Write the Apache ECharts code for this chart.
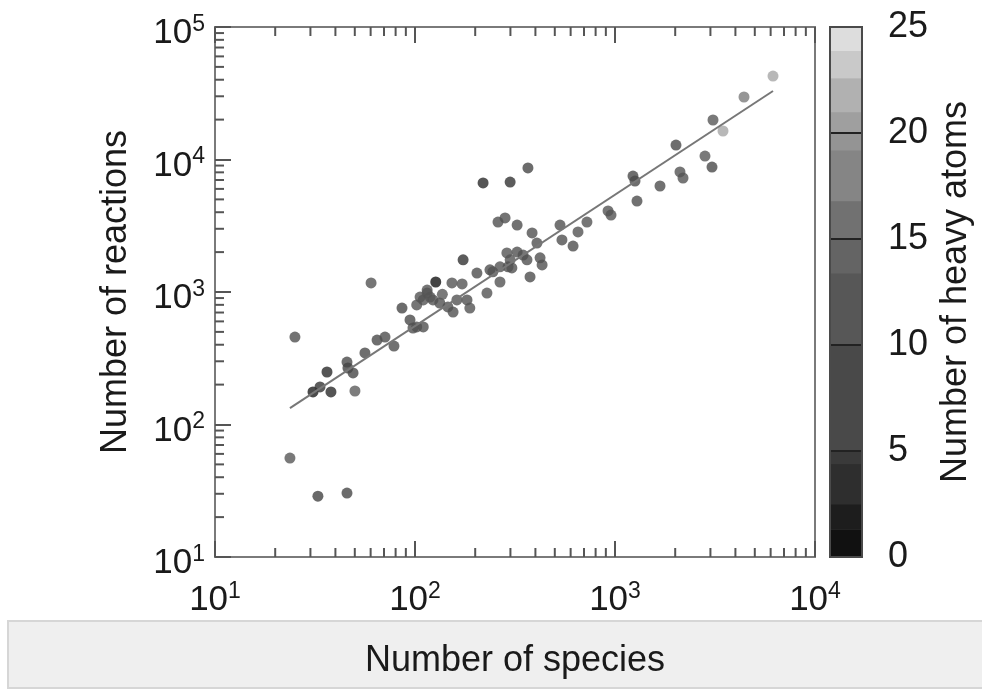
<!DOCTYPE html>
<html>
<head>
<meta charset="utf-8">
<script src="https://cdn.jsdelivr.net/npm/echarts@6/dist/echarts.min.js"></script>
<style>
  html, body { margin: 0; padding: 0; background: #ffffff; }
  #chart { width: 982px; height: 691px; }
</style>
</head>
<body>
<div id="chart"></div>
<script>
// Mechanism size: species count, reaction count and heavy-atom count per mechanism
const species = [
  23.7, 32.7, 45.7, 25.1, 30.9, 33.5, 36.3, 38.0, 45.7, 46.2,
  49.0, 50.1, 56.2, 64.6, 70.8, 78.5, 60.3, 86.1, 94.4, 97.7,
  102, 110, 102, 110, 115, 119, 123, 115, 127, 133,
  146, 155, 162, 153, 172, 174, 182, 188, 204, 229,
  237, 245, 266, 266, 288, 299, 292, 219, 299, 367,
  260, 282, 324, 385, 407, 422, 432, 376, 347, 363,
  324, 305, 531, 543, 617, 653, 724, 923, 955, 1230,
  1259, 1288, 1679, 2018, 2113, 2188, 2818, 3055, 3090, 3467,
  4416, 6166, 106, 137
];
const reactions = [
  55.8, 28.8, 30.4, 457, 176, 192, 249, 176, 296, 267,
  245, 179, 347, 434, 457, 391, 1170, 757, 615, 535,
  545, 545, 798, 871, 982, 916, 871, 1035, 1190, 826,
  771, 706, 871, 1170, 1150, 1750, 871, 757, 1390, 982,
  1470, 1420, 1550, 1190, 1970, 1750, 1550, 6650, 6760, 8630,
  3370, 3620, 3200, 2790, 2340, 1810, 1600, 1300, 1900, 1750,
  2000, 1520, 3200, 2470, 2220, 2840, 3370, 4090, 3810, 7500,
  6880, 4860, 6310, 12860, 8050, 7250, 10620, 8770, 19870, 16410,
  29630, 42650, 916, 960
];
const heavyAtoms = [
  12, 6, 7, 10, 2, 4, 3, 3, 8, 6,
  7, 13, 8, 8, 9, 9, 11, 7, 8, 10,
  10, 10, 11, 11, 11, 12, 11, 11, 1, 10,
  10, 10, 11, 11, 11, 4, 10, 11, 9, 11,
  10, 10, 11, 11, 11, 11, 10, 3, 4, 7,
  10, 10, 9, 10, 10, 10, 10, 9, 11, 10,
  10, 10, 10, 10, 9, 11, 11, 11, 11, 8,
  8, 9, 9, 8, 11, 11, 12, 8, 12, 21,
  17, 21, 11, 12
];

// Power-law fit drawn across the data range
const fitSpecies = [23.7, 6166];
const fitReactions = [133, 32900];

// Axis extents and log minor-tick layout
const speciesRange = [10, 10000];
const reactionsRange = [10, 100000];
const atomRange = [0, 25];
const atomStep = 5;
const atomTicks = [5, 10, 15, 20];
const speciesDecades = [10, 100, 1000];
const reactionDecades = [10, 100, 1000, 10000];
const minorMultipliers = [2, 3, 4, 5, 6, 7, 8, 9];

// Colour-bar levels (quantised steps of the grey map)
const colorbarEdges = [0, 1.3, 2.5, 4.4, 5, 10, 13.4, 15, 16.8, 19.2, 20, 21, 22.6, 23.9, 25];

// Grey ramp from 0 to 25 heavy atoms (one stop per unit)
const greyRamp = [
  '#0c0c0c', '#141414', '#1e1e1e', '#2a2a2a', '#333333', '#3d3d3d',
  '#434343', '#474747', '#4a4a4a', '#4d4d4d', '#505050', '#545454',
  '#585858', '#5c5c5c', '#636363', '#6a6a6a', '#727272', '#7c7c7c',
  '#858585', '#8e8e8e', '#989898', '#a6a6a6', '#b4b4b4', '#c4c4c4',
  '#d6d6d6', '#e6e6e6'
];

const FONT = "'Liberation Sans', Arial, Helvetica, sans-serif";
const TEXT = '#1a1a1a';
const FRAME = '#7a7a7a';
const TICK = '#555555';
const MAJOR_LEN = 16;
const MINOR_LEN = 9;

const pow10Label = v => '{b|10}{s|' + Math.round(Math.log10(v)) + '}';
const powRich = {
  b: { fontSize: 35, fontFamily: FONT, color: TEXT, lineHeight: 38, verticalAlign: 'bottom' },
  s: { fontSize: 23, fontFamily: FONT, color: TEXT, lineHeight: 23, verticalAlign: 'top' }
};

const points = species.map((s, i) => [s, reactions[i], heavyAtoms[i]]);
const fitLine = fitSpecies.map((s, i) => [s, fitReactions[i]]);
const xMinor = speciesDecades.flatMap(d => minorMultipliers.map(m => [d * m, reactionsRange[0]]));
const yMinor = reactionDecades.flatMap(d => minorMultipliers.map(m => [speciesRange[0], d * m]));
const colorbarBands = colorbarEdges.slice(0, -1).map((lo, i) => {
  const hi = colorbarEdges[i + 1];
  return [lo, hi, (lo + hi) / 2];
});
const colorbarTicks = atomTicks.map(v => [0, v]);

const tickLine = (x1, y1, x2, y2, color) => ({
  type: 'line',
  shape: { x1, y1, x2, y2 },
  style: { stroke: color || TICK, lineWidth: 2 }
});

const chart = echarts.init(document.getElementById('chart'), null, { renderer: 'canvas' });

chart.setOption({
  backgroundColor: '#ffffff',
  animation: false,
  textStyle: { fontFamily: FONT },
  graphic: [
    {
      type: 'rect',
      z: -10,
      shape: { x: 8, y: 621, width: 982, height: 67 },
      style: { fill: '#efefef', stroke: '#d6d6d6', lineWidth: 2 }
    }
  ],
  grid: [
    {
      left: 215, top: 27, width: 600, height: 530,
      show: true, borderColor: FRAME, borderWidth: 2, backgroundColor: 'transparent'
    },
    {
      left: 830, top: 27, width: 32, height: 530, z: 10,
      show: true, borderColor: '#4a4a4a', borderWidth: 2, backgroundColor: 'transparent'
    }
  ],
  xAxis: [
    {
      gridIndex: 0, type: 'log', logBase: 10,
      min: speciesRange[0], max: speciesRange[1], position: 'bottom',
      name: 'Number of species', nameLocation: 'middle', nameGap: 86,
      nameTextStyle: { fontSize: 36, color: TEXT, fontFamily: FONT },
      axisLine: { show: false },
      axisTick: { show: true, inside: true, length: MAJOR_LEN, lineStyle: { color: TICK, width: 2 } },
      axisLabel: { formatter: pow10Label, rich: powRich, margin: 23 },
      splitLine: { show: false }
    },
    {
      gridIndex: 0, type: 'log', logBase: 10,
      min: speciesRange[0], max: speciesRange[1], position: 'top',
      axisLine: { show: false },
      axisTick: { show: true, inside: true, length: MAJOR_LEN, lineStyle: { color: TICK, width: 2 } },
      axisLabel: { show: false },
      splitLine: { show: false }
    },
    {
      gridIndex: 1, type: 'value', min: 0, max: 1, show: false
    }
  ],
  yAxis: [
    {
      gridIndex: 0, type: 'log', logBase: 10,
      min: reactionsRange[0], max: reactionsRange[1],
      name: 'Number of reactions', nameLocation: 'middle', nameGap: 81,
      nameTextStyle: { fontSize: 36, color: TEXT, fontFamily: FONT },
      axisLine: { show: false },
      axisTick: { show: true, inside: true, length: MAJOR_LEN, lineStyle: { color: TICK, width: 2 } },
      axisLabel: { formatter: pow10Label, rich: powRich, margin: 10, padding: [10, 0, 0, 0] },
      splitLine: { show: false }
    },
    {
      gridIndex: 1, type: 'value', position: 'right',
      min: atomRange[0], max: atomRange[1], interval: atomStep,
      name: 'Number of heavy atoms', nameLocation: 'middle', nameGap: 76,
      nameTextStyle: { fontSize: 36, color: TEXT, fontFamily: FONT },
      axisLine: { show: false },
      axisTick: { show: false },
      axisLabel: { fontSize: 36, color: TEXT, fontFamily: FONT, margin: 26 },
      splitLine: { show: false }
    }
  ],
  visualMap: {
    type: 'continuous',
    show: false,
    seriesIndex: [0, 4],
    dimension: 2,
    min: atomRange[0], max: atomRange[1],
    inRange: { color: greyRamp }
  },
  series: [
    {
      type: 'scatter',
      xAxisIndex: 0, yAxisIndex: 0,
      data: points,
      symbol: 'circle',
      symbolSize: 11,
      z: 2
    },
    {
      type: 'line',
      xAxisIndex: 0, yAxisIndex: 0,
      data: fitLine,
      symbol: 'none',
      lineStyle: { color: '#777777', width: 2 },
      z: 3
    },
    {
      type: 'custom',
      xAxisIndex: 0, yAxisIndex: 0,
      data: xMinor,
      clip: false,
      z: 4,
      renderItem: (params, api) => {
        const v = api.value(0);
        const b = api.coord([v, reactionsRange[0]]);
        const t = api.coord([v, reactionsRange[1]]);
        return {
          type: 'group',
          children: [
            tickLine(b[0], b[1], b[0], b[1] - MINOR_LEN),
            tickLine(t[0], t[1], t[0], t[1] + MINOR_LEN)
          ]
        };
      }
    },
    {
      type: 'custom',
      xAxisIndex: 0, yAxisIndex: 0,
      data: yMinor,
      clip: false,
      z: 4,
      renderItem: (params, api) => {
        const v = api.value(1);
        const l = api.coord([speciesRange[0], v]);
        return tickLine(l[0], l[1], l[0] + MINOR_LEN, l[1]);
      }
    },
    {
      // colour bar: one filled band per quantised level
      type: 'custom',
      xAxisIndex: 2, yAxisIndex: 1,
      data: colorbarBands,
      encode: { x: 2, y: [0, 1] },
      clip: false,
      z: 1,
      renderItem: (params, api) => {
        const lo = api.coord([0, api.value(0)]);
        const hi = api.coord([1, api.value(1)]);
        return {
          type: 'rect',
          shape: { x: lo[0], y: hi[1], width: hi[0] - lo[0], height: lo[1] - hi[1] + 0.5 },
          style: { fill: api.visual('color') }
        };
      }
    },
    {
      // colour bar tick marks across the bar
      type: 'custom',
      xAxisIndex: 2, yAxisIndex: 1,
      data: colorbarTicks,
      clip: false,
      z: 3,
      renderItem: (params, api) => {
        const a = api.coord([0, api.value(1)]);
        const b = api.coord([1, api.value(1)]);
        return tickLine(a[0], a[1], b[0], b[1], '#222222');
      }
    }
  ]
});
</script>
</body>
</html>
